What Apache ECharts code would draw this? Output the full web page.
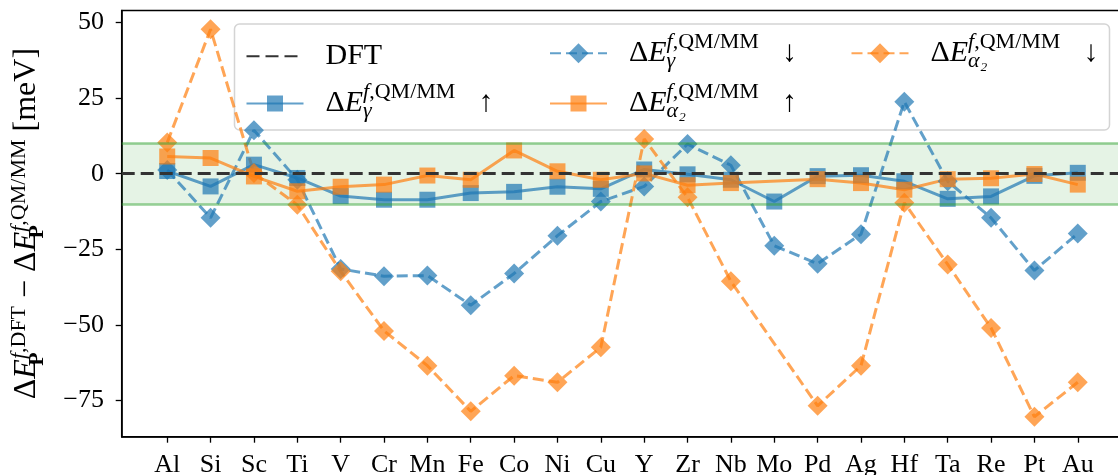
<!DOCTYPE html>
<html>
<head>
<meta charset="utf-8">
<script src="https://cdn.jsdelivr.net/npm/echarts@6/dist/echarts.min.js"></script>
<style>
  html, body { margin: 0; padding: 0; background: #fff; }
  #chart { width: 1118px; height: 475px; }
</style>
</head>
<body>
<div id="chart"></div>
<script>
// Elements along the x axis
const elements = ['Al', 'Si', 'Sc', 'Ti', 'V', 'Cr', 'Mn', 'Fe', 'Co', 'Ni', 'Cu',
                  'Y', 'Zr', 'Nb', 'Mo', 'Pd', 'Ag', 'Hf', 'Ta', 'Re', 'Pt', 'Au'];

// Formation-energy differences DFT - QM/MM [meV]; null = not computed
const gammaUp    = [0.9, -4.2, 3.0, -1.4, -7.4, -8.6, -8.6, -6.4, -6.0, -4.3, -5.0,
                    1.4, -0.2, -2.0, -9.2, -0.8, -0.5, -2.5, -8.3, -7.5, -0.7, 0.3];
const gammaDown  = [1.2, -14.6, 14.4, -2.0, -31.5, -33.9, -33.7, -43.5, -33.0, -20.5, -9.2,
                    -4.2, 9.8, 2.8, -23.8, -29.8, -20.0, 23.8, -2.5, -14.6, -32.0, -19.8];
const alpha2Up   = [5.7, 5.2, -0.9, -5.8, -4.3, -3.6, -0.6, -2.0, 7.7, 0.8, -2.0,
                    0.1, -3.8, -3.1, null, -1.8, -3.1, -5.3, -1.8, -1.5, -0.1, -3.6];
const alpha2Down = [10.3, 47.8, 0.2, -10.3, -32.3, -52.0, -63.5, -78.6, -66.8, -69.0, -57.4,
                    11.5, -7.8, -35.6, null, -76.8, -63.5, -9.6, -30.0, -51.0, -80.4, -69.0];

// Axis ticks and reference levels
const yTicks = [-75, -50, -25, 0, 25, 50];
const dftLevel = 0;
const tolerance = 10;

const FONT = "'Liberation Serif', 'DejaVu Serif', serif";
const BLUE = 'rgba(31,119,180,0.7)';
const ORANGE = 'rgba(255,127,14,0.7)';
const GREEN_EDGE = 'rgba(44,160,44,0.5)';
const LINE_W = 3;
const DASH = [11, 5];

const toPoints = vals => vals.map((v, i) => [i, v == null ? '-' : v]);
const idx = elements.map((_, i) => i);

// Rich-text styles for the math labels (superscript stacked over subscript)
function mathRich(base, script, H, supH, subH) {
  const common = { fontFamily: FONT, color: '#000' };
  return {
    sp:   { width: 17, lineHeight: H },
    gap:  { width: 23, lineHeight: H },
    t:    Object.assign({ fontSize: base, lineHeight: H }, common),
    it:   Object.assign({ fontSize: base, fontStyle: 'italic', lineHeight: H }, common),
    supi: Object.assign({ fontSize: script, fontStyle: 'italic', verticalAlign: 'top', height: supH, lineHeight: supH }, common),
    sup:  Object.assign({ fontSize: script, verticalAlign: 'top', height: supH, lineHeight: supH }, common),
    subi: Object.assign({ fontSize: script, fontStyle: 'italic', verticalAlign: 'bottom', height: subH, lineHeight: subH, width: 0 }, common),
    subb: Object.assign({ fontSize: script, fontWeight: 'bold', verticalAlign: 'bottom', height: subH, lineHeight: subH, width: 0 }, common)
  };
}
const legendRich = mathRich(30, 22, 46, 24.0, 30.6);
const axisRich = mathRich(32, 22, 50, 34.8, 29.2);

const labels = {
  'DFT': '{sp| }{t|DFT}',
  'gUp': '{sp| }{t|Δ}{it|E}{subi|γ}{supi|f}{sup|,QM/MM}{gap| }{t|↑}',
  'gDown': '{sp| }{t|Δ}{it|E}{subi|γ}{supi|f}{sup|,QM/MM}{gap| }{t|↓}',
  'aUp': '{sp| }{t|Δ}{it|E}{subi|α₂}{supi|f}{sup|,QM/MM}{gap| }{t|↑}',
  'aDown': '{sp| }{t|Δ}{it|E}{subi|α₂}{supi|f}{sup|,QM/MM}{gap| }{t|↓}'
};

function legendAt(name, left, top, itemHeight, extra) {
  return Object.assign({
    data: [name], left: left, top: top, padding: 0,
    itemWidth: 57, itemHeight: itemHeight, selectedMode: false,
    formatter: n => labels[n],
    textStyle: { rich: legendRich }
  }, extra || {});
}

const option = {
  animation: false,
  grid: { left: 121.7, width: 1001.6, top: 10.5, bottom: 38.3, show: true,
          outerBoundsMode: 'none',
          borderColor: '#000', borderWidth: 1.5, backgroundColor: 'transparent' },
  xAxis: {
    type: 'value', min: -1.05, max: 22.05,
    splitLine: { show: false },
    axisLine: { onZero: false, lineStyle: { color: '#000', width: 1.5 } },
    axisTick: { customValues: idx, length: 6, lineStyle: { color: '#000', width: 1.3 } },
    axisLabel: { customValues: idx, formatter: v => elements[v], margin: 15,
                 fontFamily: FONT, fontSize: 26, color: '#000' }
  },
  yAxis: {
    type: 'value', min: -87, max: 54,
    splitLine: { show: false },
    axisLine: { show: true, onZero: false, lineStyle: { color: '#000', width: 1.5 } },
    axisTick: { show: true, customValues: yTicks, length: 6, lineStyle: { color: '#000', width: 1.3 } },
    axisLabel: { customValues: yTicks, margin: 17.7, fontFamily: FONT, fontSize: 26, color: '#000',
                 formatter: v => (v < 0 ? '−' + Math.abs(v) : String(v)) },
    name: '{t|Δ}{it|E}{subb|P}{supi|f}{sup|,DFT}{t| − Δ}{it|E}{subb|P}{supi|f}{sup|,QM/MM}{t| [meV]}',
    nameLocation: 'middle', nameRotate: 90, nameGap: 70,
    nameTextStyle: { rich: axisRich }
  },
  legend: [
    legendAt('DFT', 245.5, 41.3, 20, { itemStyle: { color: 'rgba(0,0,0,0)', borderWidth: 0 } }),
    legendAt('gUp', 245.5, 80.5, 20),
    legendAt('gDown', 549, 30.3, 25),
    legendAt('aUp', 549, 80.5, 20),
    legendAt('aDown', 850.5, 30.3, 25)
  ],
  graphic: [{
    type: 'rect', z: 3, silent: true,
    shape: { x: 234.5, y: 24, width: 875, height: 106, r: 5 },
    style: { fill: 'rgba(255,255,255,0.8)', stroke: '#d4d4d4', lineWidth: 1.5 }
  }],
  series: [
    {
      name: 'DFT', type: 'line', data: [], symbol: 'none',
      lineStyle: { color: '#333', width: 3, type: [13, 6] },
      markArea: {
        silent: true,
        itemStyle: { color: 'rgba(44,160,44,0.12)', borderWidth: 0 },
        data: [[{ yAxis: -tolerance }, { yAxis: tolerance }]]
      },
      markLine: {
        silent: true, symbol: ['none', 'none'], label: { show: false },
        data: [
          { yAxis: -tolerance, lineStyle: { color: GREEN_EDGE, width: 2.6, type: 'solid' } },
          { yAxis: tolerance, lineStyle: { color: GREEN_EDGE, width: 2.6, type: 'solid' } },
          { yAxis: dftLevel, lineStyle: { color: '#333', width: 3, type: [13, 6] } }
        ]
      }
    },
    {
      name: 'gUp', type: 'line', data: toPoints(gammaUp),
      symbol: 'rect', symbolSize: 16,
      itemStyle: { color: BLUE }, lineStyle: { color: BLUE, width: LINE_W }
    },
    {
      name: 'gDown', type: 'line', data: toPoints(gammaDown),
      symbol: 'diamond', symbolSize: 20,
      itemStyle: { color: BLUE }, lineStyle: { color: BLUE, width: LINE_W, type: DASH }
    },
    {
      name: 'aUp', type: 'line', data: toPoints(alpha2Up), connectNulls: true,
      symbol: 'rect', symbolSize: 16,
      itemStyle: { color: ORANGE }, lineStyle: { color: ORANGE, width: LINE_W }
    },
    {
      name: 'aDown', type: 'line', data: toPoints(alpha2Down), connectNulls: true,
      symbol: 'diamond', symbolSize: 20,
      itemStyle: { color: ORANGE }, lineStyle: { color: ORANGE, width: LINE_W, type: DASH }
    }
  ]
};

const chart = echarts.init(document.getElementById('chart'), null, { renderer: 'canvas' });
chart.setOption(option);
</script>
</body>
</html>
